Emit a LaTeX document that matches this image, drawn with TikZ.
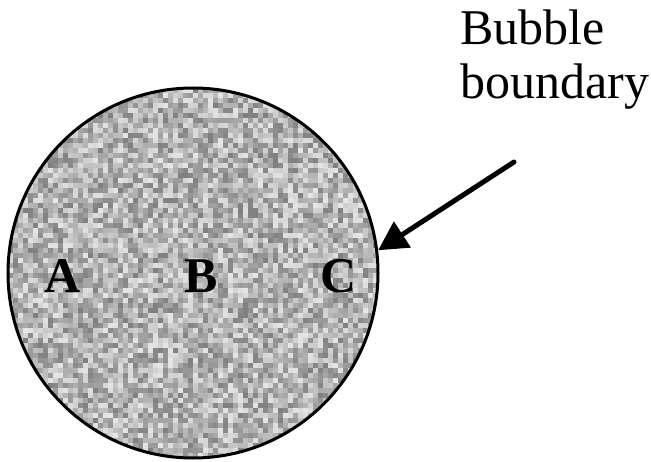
\documentclass[tikz,border=0pt]{standalone}
\usepackage{fontspec}
\setmainfont{Liberation Serif}
\usetikzlibrary{arrows.meta}

\tikzset{
  bigfont/.style={font=\fontsize{50}{54}\selectfont},
  lbl/.style={bigfont, font=\bfseries\fontsize{50}{54}\selectfont, anchor=base, inner sep=0pt},
  pointer/.style={line width=5pt, line cap=round, -{Triangle[length=29pt,width=30pt]}}
}

\begin{document}
\begin{tikzpicture}[x=1pt,y=1pt]
  \useasboundingbox (0,0) rectangle (651,461);
  \pgfmathsetseed{7}

  % Bubble texture
  \begin{scope}
    \clip (193,188) circle (185);
    \foreach \i in {0,...,74} {
      \foreach \j in {0,...,74} {
        \pgfmathtruncatemacro\g{random(50,90)}
        \fill[white!\g!black] (8+5*\i,3+5*\j) rectangle ++(5.4,5.4);
      }
    }
  \end{scope}

  % Bubble boundary
  \node[draw, circle, line width=3pt, minimum size=370pt, inner sep=0pt] (bubble) at (193,188) {};

  % Points
  \node[lbl] (a) at (63,168) {A};
  \node[lbl] (b) at (201,168) {B};
  \node[lbl] (c) at (339,168) {C};

  % Label and arrow
  \node[bigfont, align=left, anchor=north west, inner sep=0pt] (caption) at (460,451) {Bubble\\boundary};
  \coordinate (tail) at (514,299);
  \draw[pointer] (tail) -- (bubble.7);
\end{tikzpicture}
\end{document}
